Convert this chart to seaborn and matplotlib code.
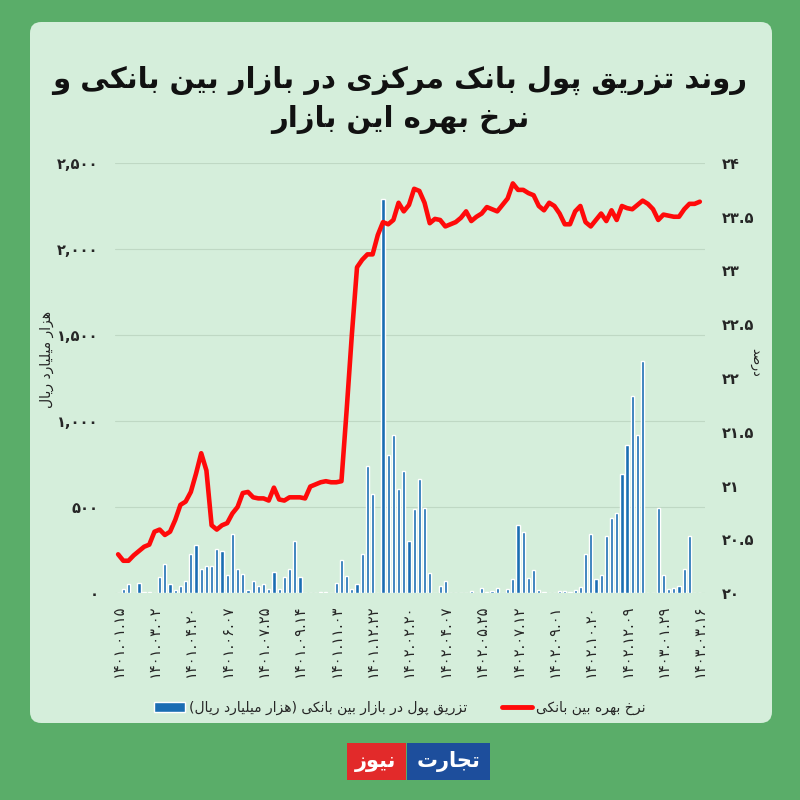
import numpy as np
import pandas as pd
import seaborn as sns
import matplotlib.pyplot as plt
from matplotlib.patches import FancyBboxPatch, Rectangle, Patch
from matplotlib.lines import Line2D

# weekly injections (thousand billion rial) and interbank rate (%)
bars = [0, 25, 54, 0, 60, 3, 3, 0, 93, 170,
        54, 15, 39, 68, 225, 277, 138, 155, 155, 254,
        242, 103, 345, 138, 112, 15, 68, 39, 54, 21,
        124, 25, 93, 138, 300, 93, 0, 0, 2, 3,
        3, 0, 60, 190, 97, 21, 54, 225, 736, 574,
        0, 2293, 800, 920, 603, 707, 300, 486, 665, 494,
        118, 2, 39, 68, 0, 0, 0, 0, 10, 0,
        27, 6, 10, 27, 0, 21, 80, 393, 355, 87,
        132, 15, 4, 0, 0, 10, 14, 4, 15, 33,
        225, 345, 80, 103, 330, 438, 467, 694, 859, 1143,
        920, 1347, 0, 0, 496, 103, 21, 27, 39, 138,
        330, 2, 2]

rate = [20.36, 20.30, 20.30, 20.35, 20.39, 20.43, 20.45, 20.57, 20.59, 20.54,
        20.57, 20.68, 20.82, 20.85, 20.94, 21.11, 21.30, 21.14, 20.63, 20.59,
        20.63, 20.65, 20.74, 20.80, 20.93, 20.94, 20.89, 20.88, 20.88, 20.86,
        20.98, 20.87, 20.86, 20.89, 20.89, 20.89, 20.88, 20.99, 21.01, 21.03,
        21.04, 21.03, 21.03, 21.04, 21.70, 22.40, 23.03, 23.10, 23.15, 23.15,
        23.33, 23.45, 23.43, 23.47, 23.63, 23.55, 23.61, 23.76, 23.74, 23.63,
        23.44, 23.48, 23.47, 23.41, 23.43, 23.45, 23.49, 23.55, 23.46, 23.50,
        23.53, 23.59, 23.57, 23.55, 23.61, 23.67, 23.81, 23.75, 23.75, 23.72,
        23.70, 23.60, 23.56, 23.63, 23.60, 23.53, 23.43, 23.43, 23.55, 23.60,
        23.45, 23.41, 23.47, 23.53, 23.46, 23.56, 23.47, 23.60, 23.58, 23.57,
        23.61, 23.65, 23.62, 23.57, 23.47, 23.52, 23.51, 23.50, 23.50, 23.57,
        23.62, 23.62, 23.64]

date_labels = ['1401.01.15', '1401.03.02', '1401.04.20', '1401.06.07', '1401.07.25',
               '1401.09.14', '1401.11.03', '1401.12.22', '1402.02.20', '1402.04.07',
               '1402.05.25', '1402.07.12', '1402.09.01', '1402.10.20', '1402.12.09',
               '1403.01.29', '1403.03.16']

title_1 = 'روند تزریق پول بانک مرکزی در بازار بین بانکی و'
title_2 = 'نرخ بهره این بازار'
bar_name = 'تزریق پول در بازار بین بانکی (هزار میلیارد ریال)'
line_name = 'نرخ بهره بین بانکی'
left_label = 'هزار میلیارد ریال'
right_label = 'درصد'

# presentation forms: isolated, final, initial, medial
FORMS = {
    'ا': ('\uFE8D', '\uFE8E', None, None),
    'ب': ('\uFE8F', '\uFE90', '\uFE91', '\uFE92'),
    'پ': ('\uFB56', '\uFB57', '\uFB58', '\uFB59'),
    'ت': ('\uFE95', '\uFE96', '\uFE97', '\uFE98'),
    'ج': ('\uFE9D', '\uFE9E', '\uFE9F', '\uFEA0'),
    'خ': ('\uFEA5', '\uFEA6', '\uFEA7', '\uFEA8'),
    'د': ('\uFEA9', '\uFEAA', None, None),
    'ر': ('\uFEAD', '\uFEAE', None, None),
    'ز': ('\uFEAF', '\uFEB0', None, None),
    'ص': ('\uFEB9', '\uFEBA', '\uFEBB', '\uFEBC'),
    'ق': ('\uFED5', '\uFED6', '\uFED7', '\uFED8'),
    'ک': ('\uFB8E', '\uFB8F', '\uFB90', '\uFB91'),
    'ل': ('\uFEDD', '\uFEDE', '\uFEDF', '\uFEE0'),
    'م': ('\uFEE1', '\uFEE2', '\uFEE3', '\uFEE4'),
    'ن': ('\uFEE5', '\uFEE6', '\uFEE7', '\uFEE8'),
    'و': ('\uFEED', '\uFEEE', None, None),
    'ه': ('\uFEE9', '\uFEEA', '\uFEEB', '\uFEEC'),
    'ی': ('\uFBFC', '\uFBFD', '\uFBFE', '\uFBFF'),
}


def fa(s):
    # matplotlib does no shaping, so join letters and lay them out right to left
    out = []
    for i, c in enumerate(s):
        if c not in FORMS:
            out.append(c)
            continue
        prev = s[i - 1] if i > 0 else ''
        nxt = s[i + 1] if i + 1 < len(s) else ''
        p = prev in FORMS and FORMS[prev][2] is not None
        n = FORMS[c][2] is not None and nxt in FORMS
        iso, fin, ini, med = FORMS[c]
        out.append(med if p and n else fin if p else ini if n else iso)
    mirror = {'(': ')', ')': '('}
    return ''.join(mirror.get(c, c) for c in reversed(out))


def fa_digits(s):
    return s.translate(str.maketrans('0123456789', '۰۱۲۳۴۵۶۷۸۹'))


df = pd.DataFrame({'week': np.arange(len(bars)), 'amount': bars, 'rate': rate})
tick_idx = list(range(0, len(bars), 7))

sns.set_style('white')
plt.rcParams['font.family'] = ['DejaVu Sans']

BG = '#5aad69'
PANEL = '#d5eedb'
BLUE = '#1a6db3'
RED = '#ff0a0a'

fig = plt.figure(figsize=(8, 8), dpi=100)
fig.patch.set_facecolor(BG)
fig.patches.append(FancyBboxPatch((30 / 800, 77 / 800), 742 / 800, 701 / 800,
                                  boxstyle='round,pad=0,rounding_size=0.014',
                                  transform=fig.transFigure, facecolor=PANEL,
                                  edgecolor='none', zorder=-5))

ax = fig.add_axes([115 / 800, 207 / 800, 590 / 800, 430 / 800])
ax.set_facecolor('none')
sns.barplot(data=df, x='week', y='amount', native_scale=True, width=0.62,
            color=BLUE, saturation=1, errorbar=None, ax=ax, zorder=2)
ax.set_xlim(-0.6, 113.0)
ax.set_ylim(0, 2500)
ax.set_yticks(range(0, 2501, 500))
ax.set_yticklabels([fa_digits(f'{v:,}') for v in range(0, 2501, 500)],
                   fontweight='bold', fontsize=10.5)
ax.set_xticks(tick_idx)
ax.set_xticklabels([fa_digits(d) for d in date_labels], rotation=90, fontsize=10.5)
ax.yaxis.grid(True, color='#bfd8c4', linewidth=0.8)
ax.set_axisbelow(True)
ax.set_xlabel('')
ax.set_ylabel('')
ax.tick_params(axis='both', length=0, pad=12)
ax.tick_params(axis='x', pad=8)

ax2 = ax.twinx()
sns.lineplot(data=df, x='week', y='rate', color=RED, linewidth=3.3, ax=ax2)
ax2.set_ylim(20, 24)
r_ticks = np.arange(20, 24.01, 0.5)
ax2.set_yticks(r_ticks)
ax2.set_yticklabels([fa_digits(f'{v:g}') for v in r_ticks], fontweight='bold', fontsize=10.5)
ax2.tick_params(axis='y', length=0, pad=12)
ax2.set_ylabel('')
for a in (ax, ax2):
    for sp in a.spines.values():
        sp.set_visible(False)

fig.text(0.5, 1 - 80 / 800, fa(title_1), ha='center', va='center',
         fontsize=21, fontweight='bold', color='#111111')
fig.text(0.5, 1 - 119 / 800, fa(title_2), ha='center', va='center',
         fontsize=21, fontweight='bold', color='#111111')

fig.text(47 / 800, 1 - 359 / 800, fa(left_label), rotation=90, ha='center', va='center',
         fontsize=10, color='#222222')
fig.text(756 / 800, 1 - 362 / 800, fa(right_label), rotation=-90, ha='center', va='center',
         fontsize=9, color='#222222')

handles = [Patch(facecolor=BLUE), Line2D([0], [0], color=RED, linewidth=3.5)]
fig.legend(handles, [fa(bar_name), fa(line_name)], loc='center',
           bbox_to_anchor=(0.5, 1 - 708 / 800), ncol=2, frameon=False,
           fontsize=10, handlelength=2.2, columnspacing=2.5, handletextpad=0.3)

# logo under the panel
fig.patches.append(Rectangle((347 / 800, 20 / 800), 59 / 800, 37 / 800,
                             transform=fig.transFigure, facecolor='#e22a2a', edgecolor='none'))
fig.patches.append(Rectangle((407 / 800, 20 / 800), 83 / 800, 37 / 800,
                             transform=fig.transFigure, facecolor='#1d4e9c', edgecolor='none'))
fig.text(376 / 800, 38 / 800, fa('نیوز'), ha='center', va='center',
         fontsize=15, fontweight='bold', color='white')
fig.text(448 / 800, 38 / 800, fa('تجارت'), ha='center', va='center',
         fontsize=15, fontweight='bold', color='white')

fig.savefig('out.png', dpi=100, facecolor=fig.get_facecolor())
